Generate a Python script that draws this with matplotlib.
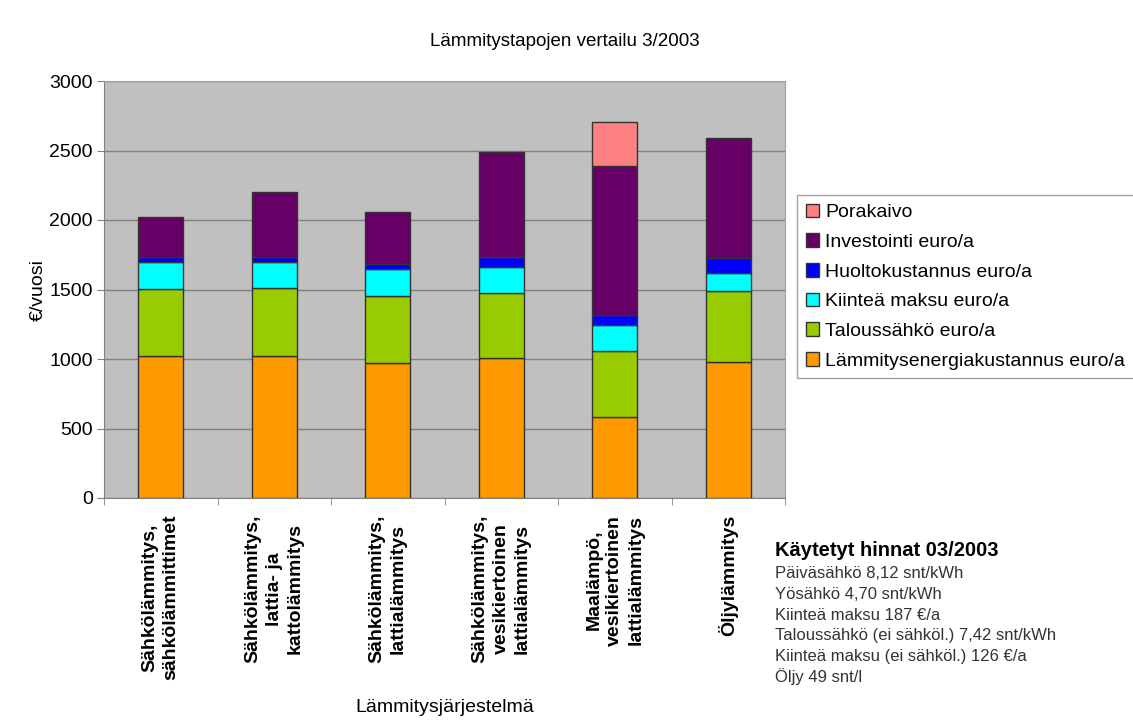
import matplotlib
matplotlib.use("Agg")
import matplotlib.pyplot as plt
import numpy as np

plt.rcParams["font.family"] = ["Liberation Sans", "DejaVu Sans"]

# kategoriat (lämmitystavat)
categories = [
    "Sähkölämmitys,\nsähkölämmittimet",
    "Sähkölämmitys,\nlattia- ja\nkattolämmitys",
    "Sähkölämmitys,\nlattialämmitys",
    "Sähkölämmitys,\nvesikiertoinen\nlattialämmitys",
    "Maalämpö,\nvesikiertoinen\nlattialämmitys",
    "Öljylämmitys",
]

# kustannukset euro/a (alhaalta ylös)
lammitysenergia = [1024, 1024, 969, 1005, 580, 976]
taloussahko = [477, 485, 486, 467, 480, 515]
kiintea_maksu = [195, 191, 190, 192, 185, 126]
huolto = [36, 36, 38, 72, 72, 107]
investointi = [292, 463, 377, 751, 1072, 868]
porakaivo = [0, 0, 0, 0, 318, 0]

series_names = [
    "Lämmitysenergiakustannus euro/a",
    "Taloussähkö euro/a",
    "Kiinteä maksu euro/a",
    "Huoltokustannus euro/a",
    "Investointi euro/a",
    "Porakaivo",
]
series_colors = ["#FF9900", "#99CC00", "#00FFFF", "#0000FF", "#660066", "#FF8080"]

price_title = "Käytetyt hinnat 03/2003"
price_lines = [
    "Päiväsähkö 8,12 snt/kWh",
    "Yösähkö 4,70 snt/kWh",
    "Kiinteä maksu 187 €/a",
    "Taloussähkö (ei sähköl.) 7,42 snt/kWh",
    "Kiinteä maksu (ei sähköl.) 126 €/a",
    "Öljy 49 snt/l",
]

data = [lammitysenergia, taloussahko, kiintea_maksu, huolto, investointi, porakaivo]

fig = plt.figure(figsize=(11.33, 7.22), dpi=100)
ax = fig.add_axes([104 / 1133, 1 - 498 / 722, 681 / 1133, 417 / 722])
ax.set_facecolor("#C0C0C0")

x = np.arange(len(categories))
bottom = np.zeros(len(categories))
handles = []
for vals, name, col in zip(data, series_names, series_colors):
    vals = np.array(vals, dtype=float)
    mask = vals > 0
    b = ax.bar(x[mask], vals[mask], 0.4, bottom=bottom[mask], color=col,
               edgecolor="#333333", linewidth=1, label=name, zorder=3)
    handles.append(b)
    bottom += vals

ax.set_xlim(-0.5, len(categories) - 0.5)
ax.set_ylim(0, 3000)
ax.set_yticks(range(0, 3001, 500))
ax.yaxis.grid(True, color="#808080", linewidth=1, zorder=0)
ax.tick_params(axis="y", labelsize=14, length=5, color="#808080", pad=3)

ax.set_xticks(x)
ax.set_xticklabels(categories, rotation=90, fontsize=14, fontweight="bold",
                   ha="center", va="top", multialignment="center", linespacing=1.3)
ax.tick_params(axis="x", length=0, pad=12)
ax.set_xticks(np.arange(-0.5, len(categories)), minor=True)
ax.tick_params(axis="x", which="minor", length=5, color="#808080")

for s in ["top", "right"]:
    ax.spines[s].set_color("#A0A0A0")
for s in ["left", "bottom"]:
    ax.spines[s].set_color("#808080")

fig.text(565 / 1133, 1 - 42 / 722, "Lämmitystapojen vertailu 3/2003",
         ha="center", va="center", fontsize=13.5)
fig.text(38 / 1133, 1 - 290 / 722, "€/vuosi", rotation=90,
         ha="center", va="center", fontsize=14)
fig.text(445 / 1133, 1 - 708 / 722, "Lämmitysjärjestelmä",
         ha="center", va="center", fontsize=14)

leg = fig.legend(handles[::-1], series_names[::-1], loc="upper left",
                 bbox_to_anchor=(797 / 1133, 1 - 195 / 722), fontsize=14,
                 fancybox=False, edgecolor="#A0A0A0", framealpha=1,
                 handlelength=0.7, handleheight=0.7, handletextpad=0.3,
                 labelspacing=0.62, borderpad=0.45, borderaxespad=0)

fig.text(775 / 1133, 1 - 550 / 722, price_title, ha="left", va="center",
         fontsize=14.5, fontweight="bold")
for i, line in enumerate(price_lines):
    fig.text(775 / 1133, 1 - (574 + i * 20.6) / 722, line, ha="left",
             va="center", fontsize=12, color="#333333")

fig.savefig("out.png", dpi=100)
